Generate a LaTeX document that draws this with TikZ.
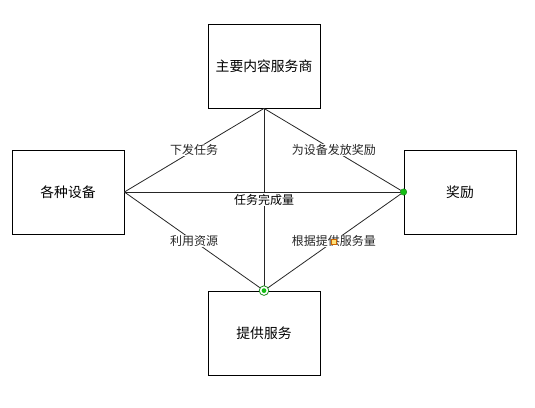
\documentclass[tikz,border=0pt]{standalone}
\usepackage{fontspec}
\setmainfont{Noto Sans CJK SC}
\usetikzlibrary{calc}
\definecolor{dotgreen}{RGB}{20,190,20}
\definecolor{ringgreen}{RGB}{30,140,30}
\definecolor{handle}{RGB}{255,225,120}

\begin{document}
\begin{tikzpicture}[x=1pt, y=-1pt, line width=0.8pt,
  every node/.style={font=\fontsize{12}{14}\selectfont},
  box/.style={draw, minimum width=112pt, minimum height=84pt, inner sep=0pt,
    font=\fontsize{13.8}{16}\selectfont},
  lbl/.style={fill=white, inner sep=0.6pt}]
  \useasboundingbox (0,0) rectangle (535,407);

  \node[box] (zhuyao) at (264,66) {主要内容服务商};
  \node[box] (shebei) at (68,192) {各种设备};
  \node[box] (jiangli) at (460,192) {奖励};
  \node[box] (fuwu) at (264,333) {提供服务};

  \draw[black!85] (zhuyao.south) -- (fuwu.north);
  \node[lbl] (wancheng) at (264,199.5) {任务完成量};
  \draw[black!85] (shebei.east) -- (jiangli.west);

  \draw[black!85] (zhuyao.south) -- (shebei.east) node[lbl, midway] (xiafa) {下发任务};
  \draw[black!85] (zhuyao.south) -- (jiangli.west) node[lbl, midway] (fafang) {为设备发放奖励};
  \draw[black!85] (shebei.east) -- (fuwu.north) node[lbl, midway] (ziyuan) {利用资源};
  \draw[black!85] (jiangli.west) -- (fuwu.north) node[lbl, midway] (fuwuliang) {根据提供服务量};

  % connection handles
  \fill[handle, draw=orange!80!black, line width=0.4pt] ($(fuwuliang)+(-2.5,-2.5)$) rectangle ++(5,5);
  \filldraw[fill=dotgreen, draw=ringgreen, line width=0.5pt] (jiangli.west) circle (3.2);
  \filldraw[fill=white, draw=ringgreen, line width=0.8pt] (fuwu.north) circle (4.8);
  \fill[dotgreen] (fuwu.north) circle (2.4);
\end{tikzpicture}
\end{document}
